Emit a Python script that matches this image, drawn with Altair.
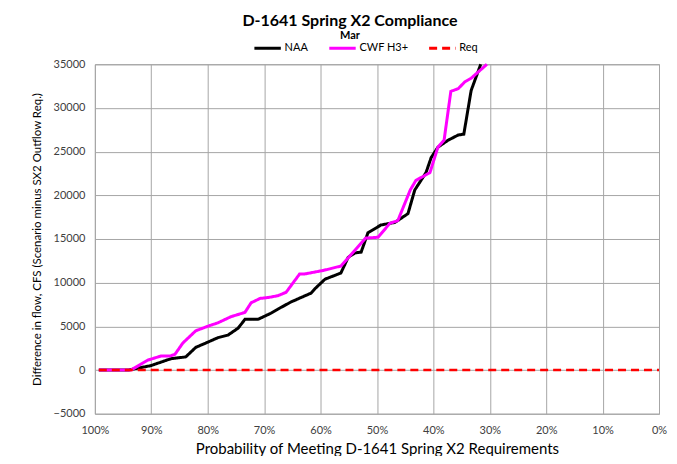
import altair as alt
import pandas as pd

# NAA series (probability %, difference cfs)
naa_p = [99.3, 94.1, 90.1, 88.3, 86.5, 83.9, 82.1, 80.3, 78.2, 76.4, 74.6, 73.4, 71.1,
         68.8, 67.2, 65.2, 61.7, 61.0, 59.2, 56.4, 55.1, 53.9, 52.8, 51.6, 49.3, 46.8,
         44.5, 43.3, 41.3, 40.4, 39.2, 37.4, 35.6, 34.6, 33.3, 31.6]
naa_v = [0, 0, 500, 900, 1300, 1500, 2600, 3100, 3700, 4000, 4800, 5800, 5800,
         6500, 7100, 7800, 8800, 9300, 10400, 11100, 12900, 13400, 13500, 15700, 16600, 16900,
         17900, 20600, 22600, 24300, 25500, 26300, 26900, 27000, 32000, 35000]

# CWF H3+ series
cwf_p = [99.3, 93.6, 90.6, 88.3, 86.7, 85.8, 84.4, 82.1, 79.6, 78.2, 75.9, 73.4, 72.3,
         70.7, 69.3, 67.6, 66.1, 63.7, 62.8, 59.5, 56.4, 53.9, 52.0, 49.8, 47.7, 46.3,
         44.1, 43.1, 40.6, 39.2, 38.1, 36.9, 35.6, 34.4, 33.3, 30.5]
cwf_v = [0, 0, 1140, 1600, 1600, 1800, 3100, 4500, 5100, 5400, 6100, 6600, 7700,
         8200, 8300, 8500, 8900, 11000, 11000, 11400, 11900, 13700, 15100, 15200, 16800, 17100,
         20600, 21700, 22600, 25500, 26300, 31900, 32200, 33000, 33400, 35000]

# Requirement line
req_p = [99.3, 0]
req_v = [0, 0]

series_names = ["NAA", "CWF H3+", "Req"]
series_colors = ["#000000", "#FF00FF", "#FF0000"]

x_ticks = [100, 90, 80, 70, 60, 50, 40, 30, 20, 10, 0]
y_ticks = [-5000, 0, 5000, 10000, 15000, 20000, 25000, 30000, 35000]

rows = []
for name, ps, vs in [("NAA", naa_p, naa_v), ("CWF H3+", cwf_p, cwf_v), ("Req", req_p, req_v)]:
    for i, (p, v) in enumerate(zip(ps, vs)):
        rows.append({"series": name, "p": p, "v": v, "i": i})
df = pd.DataFrame(rows)

FONT = "Lato"

base = alt.Chart(df).encode(
    x=alt.X("p:Q",
            scale=alt.Scale(domain=[100, 0], nice=False),
            axis=alt.Axis(values=x_ticks, labelExpr="datum.value + '%'",
                          title="Probability of Meeting D-1641 Spring X2 Requirements",
                          grid=True, ticks=False, domain=False, labelFlush=False,
                          labelFontSize=11, labelPadding=11,
                          titleFontSize=15, titleFontWeight="normal", titlePadding=6,
                          labelFont=FONT, titleFont=FONT, labelColor="#404040",
                          titleColor="#000000")),
    y=alt.Y("v:Q",
            scale=alt.Scale(domain=[-5000, 35000], nice=False),
            axis=alt.Axis(values=y_ticks, format="d",
                          title="Difference in flow, CFS (Scenario minus SX2 Outflow Req.)",
                          grid=True, ticks=False, domain=False, labelFlush=False,
                          labelFontSize=11, labelPadding=10,
                          titleFontSize=11.5, titleFontWeight="normal", titlePadding=11,
                          labelFont=FONT, titleFont=FONT, labelColor="#404040",
                          titleColor="#000000")),
    order="i:Q",
    color=alt.Color("series:N",
                    scale=alt.Scale(domain=series_names, range=series_colors),
                    legend=alt.Legend(title=None, orient="none", direction="horizontal",
                                      legendX=158, legendY=-31,
                                      symbolType="stroke", symbolSize=700,
                                      symbolStrokeWidth=3, labelFontSize=11,
                                      labelFont=FONT, columnPadding=14, labelOffset=2)),
    strokeDash=alt.StrokeDash("series:N",
                              scale=alt.Scale(domain=series_names,
                                              range=[[1, 0], [1, 0], [8, 5]]),
                              legend=None),
)

naa = base.transform_filter(alt.datum.series == "NAA").mark_line(strokeWidth=3)
cwf = base.transform_filter(alt.datum.series == "CWF H3+").mark_line(strokeWidth=3)
req = base.transform_filter(alt.datum.series == "Req").mark_line(strokeWidth=2.5)

chart = alt.layer(naa, cwf, req).properties(
    width=565,
    height=350,
    title=alt.TitleParams(text="D-1641 Spring X2 Compliance", subtitle="Mar",
                          anchor="middle", fontSize=16, fontWeight="bold",
                          subtitleFontSize=11, subtitleFontWeight="bold",
                          subtitleColor="#000000", subtitlePadding=1,
                          font=FONT, subtitleFont=FONT, dx=-27, offset=-8),
    autosize=alt.AutoSizeParams(type="none"),
    padding={"left": 87, "top": 56, "right": 10, "bottom": 42},
).configure_view(
    stroke="#a0a0a0", strokeWidth=1
).configure_axis(
    gridColor="#a6a6a6", gridWidth=1, gridOpacity=1
)

chart.save("out.html", embed_options={"renderer": "svg", "actions": False})
